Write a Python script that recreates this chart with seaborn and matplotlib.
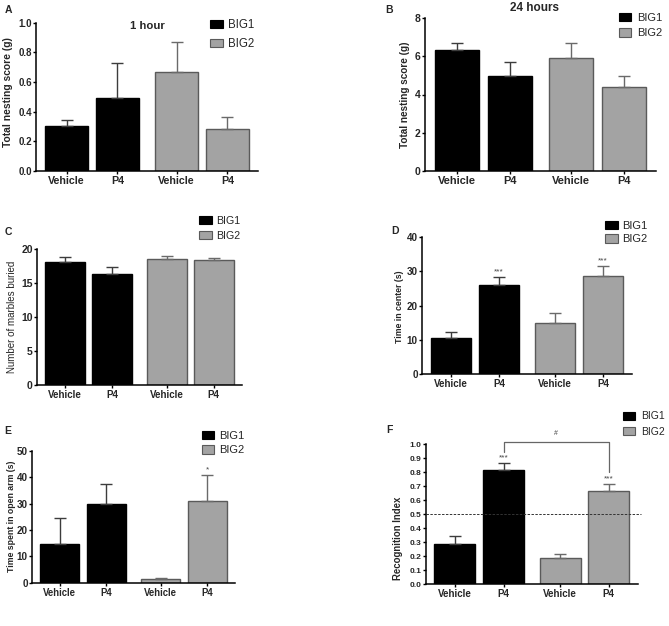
import numpy as np
import pandas as pd
import matplotlib
matplotlib.use("Agg")
import matplotlib.pyplot as plt
import seaborn as sns

# ---------------- data ----------------
groups = ["BIG1", "BIG1", "BIG2", "BIG2"]
treatments = ["Vehicle", "P4", "Vehicle", "P4"]

nest_1h_mean = [0.30, 0.49, 0.67, 0.28]
nest_1h_sem = [0.045, 0.24, 0.20, 0.08]

nest_24h_mean = [6.36, 4.99, 5.90, 4.40]
nest_24h_sem = [0.33, 0.70, 0.79, 0.56]

marbles_mean = [18.2, 16.35, 18.55, 18.35]
marbles_sem = [0.72, 0.98, 0.45, 0.44]

center_mean = [10.45, 25.85, 14.8, 28.65]
center_sem = [1.75, 2.3, 3.1, 2.7]

openarm_mean = [14.7, 29.7, 1.3, 30.9]
openarm_sem = [9.7, 7.6, 0.4, 9.85]

recog_mean = [0.288, 0.82, 0.188, 0.664]
recog_sem = [0.055, 0.043, 0.026, 0.05]

# ---------------- layout / style ----------------
W, H = 669, 626
BAR_POS = [0.0, 1.0, 2.16, 3.16]
XLIM = (-0.6, 3.76)
FILL = {"BIG1": "#000000", "BIG2": "#a3a3a3"}
EDGE = {"BIG1": "#000000", "BIG2": "#5a5a5a"}
ERRC = {"BIG1": "#3c3c3c", "BIG2": "#6a6a6a"}

sns.set_style("ticks")
plt.rcParams["font.family"] = ["Liberation Sans", "DejaVu Sans"]

fig = plt.figure(figsize=(W / 100, H / 100), dpi=100)


def px_axes(l, r, t, b):
    return fig.add_axes([l / W, 1 - b / H, (r - l) / W, (b - t) / H])


def panel(box, means, sems, ylim, yticks, yfmt, ylabel, ylab_pos, ylab_size,
          ylab_weight, ytick_size, xtick_size, leg):
    l, r, t, b = box
    ax = px_axes(l, r, t, b)
    df = pd.DataFrame({"pos": BAR_POS, "value": means, "group": groups})
    sns.barplot(data=df, x="pos", y="value", hue="group", native_scale=True,
                width=0.84, palette=FILL, errorbar=None, ax=ax, legend=True,
                linewidth=1.0)
    for p in ax.patches:
        fc = p.get_facecolor()
        p.set_edgecolor(EDGE["BIG1"] if fc[0] < 0.3 else EDGE["BIG2"])
    for x, m, s, g in zip(BAR_POS, means, sems, groups):
        ax.errorbar([x], [m], yerr=[[0], [s]], fmt="none", ecolor=ERRC[g],
                    elinewidth=1.0, capsize=4.5, capthick=1.0, zorder=3)
    ax.set_xlim(*XLIM)
    ax.set_ylim(*ylim)
    ax.set_yticks(yticks)
    ax.set_yticklabels([yfmt.format(v) for v in yticks], fontsize=ytick_size,
                       fontweight="bold")
    ax.set_xticks(BAR_POS)
    ax.set_xticklabels(treatments, fontsize=xtick_size, fontweight="bold")
    ax.tick_params(axis="y", direction="out", length=2.2, width=1.0, pad=0.8,
                   color="black")
    ax.tick_params(axis="x", direction="out", length=2.2, width=1.0, pad=1.5,
                   color="black")
    sns.despine(ax=ax)
    for sp in ("left", "bottom"):
        ax.spines[sp].set_linewidth(1.1)
        ax.spines[sp].set_color("black")
    ax.set_xlabel("")
    ax.set_ylabel(ylabel, fontsize=ylab_size, fontweight=ylab_weight,
                  va="center", ha="center")
    lx, ly = ylab_pos
    ax.yaxis.set_label_coords((lx - l) / (r - l), (b - ly) / (b - t))

    # legend
    old = ax.get_legend()
    handles = old.legend_handles
    labels = [tx.get_text() for tx in old.get_texts()]
    old.remove()
    for h, g in zip(handles, labels):
        h.set_edgecolor(EDGE[g])
        h.set_linewidth(0.8)
    sq_l, row1, row2, fs, sqw, gap = leg
    fpx = fs * 100 / 72
    ax.legend(handles, labels, loc="center left",
              bbox_to_anchor=(sq_l / W, 1 - ((row1 + row2) / 2) / H),
              bbox_transform=fig.transFigure, frameon=False, fontsize=fs,
              handlelength=sqw / fpx, handleheight=8.5 / fpx,
              handletextpad=gap / fpx,
              labelspacing=max((row2 - row1) / fpx - 1.0, 0.05),
              borderpad=0, borderaxespad=0)
    return ax


def letter(txt, x, y):
    fig.text(x / W, 1 - y / H, txt, fontsize=7.5, fontweight="bold",
             ha="center", va="center")


# A
axA = panel((36, 258, 22.7, 170.7), nest_1h_mean, nest_1h_sem, (0, 1.0),
            [0, 0.2, 0.4, 0.6, 0.8, 1.0], "{:.1f}", "Total nesting score (g)",
            (8, 92.5), 7.4, "bold", 7.0, 7.7, (210, 25, 44, 8.3, 13, 5))
axA.set_title("1 hour", fontsize=8.2, fontweight="bold", x=0.502, y=0.98,
              va="center", pad=0)
letter("A", 8, 10.3)

# B
axB = panel((425, 656, 18.3, 170.7), nest_24h_mean, nest_24h_sem, (0, 8),
            [0, 2, 4, 6, 8], "{:d}", "Total nesting score (g)",
            (405, 95), 7.2, "bold", 7.5, 7.9, (619, 17, 34, 8.0, 12, 6.5))
axB.set_title("24 hours", fontsize=8.5, fontweight="bold", x=0.474, y=1.066,
              va="center", pad=0)
letter("B", 389, 10)

# C
axC = panel((37, 242, 249.3, 385), marbles_mean, marbles_sem, (0, 20),
            [0, 5, 10, 15, 20], "{:d}", "Number of marbles buried",
            (12, 316.7), 7.0, "normal", 7.5, 7.0, (199, 220.5, 236, 7.7, 13, 4))
letter("C", 8.3, 231.7)

# D
axD = panel((422, 632, 236.7, 374.3), center_mean, center_sem, (0, 40),
            [0, 10, 20, 30, 40], "{:d}", "Time in center (s)",
            (399.5, 306.7), 6.35, "bold", 7.1, 7.05, (605, 225, 240, 8.0, 13, 4.3))
for i in (1, 3):
    axD.text(BAR_POS[i], center_mean[i] + center_sem[i] + 0.6, "***",
             fontsize=6, color="#444444", ha="center", va="bottom")
letter("D", 394.5, 230.8)

# E
axE = panel((32, 235, 450.7, 582.7), openarm_mean, openarm_sem, (0, 50),
            [0, 10, 20, 30, 40, 50], "{:d}", "Time spent in open arm (s)",
            (11.7, 516.7), 6.3, "bold", 7.1, 6.85, (201.7, 435.5, 451, 8.0, 12, 5))
axE.text(BAR_POS[3], openarm_mean[3] + openarm_sem[3] + 0.8, "*",
         fontsize=6, color="#444444", ha="center", va="bottom")
letter("E", 7.5, 431)

# F
axF = panel((425.7, 638, 444.3, 584.3), recog_mean, recog_sem, (0, 1.0),
            list(np.round(np.arange(0, 1.01, 0.1), 1)), "{:.1f}",
            "Recognition Index", (398.3, 538.5), 6.9, "bold", 6.0, 7.05,
            (622.7, 416, 432, 7.5, 12.3, 5.7))
axF.axhline(0.5, xmin=0, xmax=1.015, ls=(0, (2.5, 1.5)), lw=0.7,
            color="#333333", clip_on=False, zorder=4)
for i in (1, 3):
    axF.text(BAR_POS[i], recog_mean[i] + recog_sem[i] + 0.015, "***",
             fontsize=6, color="#444444", ha="center", va="bottom")
axF.plot([BAR_POS[1], BAR_POS[1], BAR_POS[3], BAR_POS[3]],
         [0.947, 1.014, 1.014, 0.804], color="#666666", lw=0.9,
         clip_on=False, zorder=4)
axF.text((BAR_POS[1] + BAR_POS[3]) / 2, 1.08, "#", fontsize=5,
         color="#444444", ha="center", va="center")
letter("F", 389.5, 430)

fig.savefig("out.png", dpi=100)
